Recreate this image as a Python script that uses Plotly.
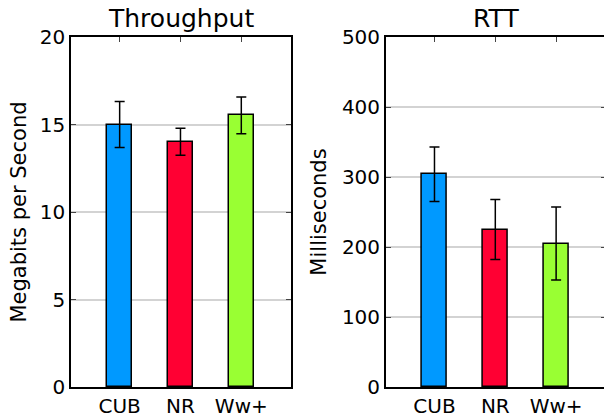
import plotly.graph_objects as go

categories = ["CUB", "NR", "Ww+"]
throughput = [15.0, 14.02, 15.52]
throughput_err = [1.32, 0.77, 1.05]
rtt = [304, 225, 205]
rtt_err = [39, 43, 52]
colors = ["#0099ff", "#ff0033", "#99ff33"]

FONT = "DejaVu Sans"
W, H = 608, 418
ML, MR, MT, MB = 71, 0, 37, 28
PW = W - ML - MR
PH = H - MT - MB

dom1 = [0, (292 - ML) / PW]
dom2 = [(387 - ML) / PW, 1.0]

fig = go.Figure()
fig.add_trace(go.Bar(
    x=categories, y=throughput, width=0.41,
    marker=dict(color=colors, line=dict(color="black", width=1.5)),
    error_y=dict(type="data", array=throughput_err, color="black", thickness=1.5, width=5),
    xaxis="x", yaxis="y", showlegend=False))
fig.add_trace(go.Bar(
    x=categories, y=rtt, width=0.41,
    marker=dict(color=colors, line=dict(color="black", width=1.5)),
    error_y=dict(type="data", array=rtt_err, color="black", thickness=1.5, width=5),
    xaxis="x2", yaxis="y2", showlegend=False))

xcommon = dict(showline=True, linecolor="black", linewidth=1.5, mirror="allticks",
               ticks="inside", ticklen=5, tickcolor="#444", tickwidth=1,
               showgrid=False, zeroline=False, layer="below traces",
               tickfont=dict(family=FONT, size=20, color="black"))
ycommon = dict(showline=True, linecolor="black", linewidth=1.5, mirror="allticks",
               ticks="inside", ticklen=5, tickcolor="#444", tickwidth=1,
               showgrid=True, gridcolor="#d3d3d3", gridwidth=2, zeroline=False,
               layer="below traces",
               tickfont=dict(family=FONT, size=20, color="black"))

title_y = 1 + (MT - 18) / PH

fig.update_layout(
    width=W, height=H,
    margin=dict(l=ML, r=MR, t=MT, b=MB, pad=0),
    paper_bgcolor="white", plot_bgcolor="white",
    bargap=0,
    xaxis=dict(domain=dom1, range=[-0.8, 2.82], anchor="y", **xcommon),
    yaxis=dict(domain=[0, 1], range=[0, 20], tickvals=[0, 5, 10, 15, 20], anchor="x",
               title=dict(text="Megabits per Second", font=dict(family=FONT, size=21, color="black"), standoff=7),
               **ycommon),
    xaxis2=dict(domain=dom2, range=[-0.8, 2.82], anchor="y2", **xcommon),
    yaxis2=dict(domain=[0, 1], range=[0, 500], tickvals=[0, 100, 200, 300, 400, 500], anchor="x2",
                title=dict(text="Milliseconds", font=dict(family=FONT, size=21, color="black"), standoff=10),
                **ycommon),
    annotations=[
        dict(text="Throughput", x=(dom1[0] + dom1[1]) / 2, y=title_y, xref="paper", yref="paper",
             showarrow=False, font=dict(family=FONT, size=25, color="black"), xanchor="center", yanchor="middle"),
        dict(text="RTT", x=(dom2[0] + dom2[1]) / 2, y=title_y, xref="paper", yref="paper",
             showarrow=False, font=dict(family=FONT, size=25, color="black"), xanchor="center", yanchor="middle"),
    ],
)

fig.write_html("out.html",
               config={"displayModeBar": False},
               post_script="document.body.style.margin='0';document.body.style.overflow='hidden';"
                           "document.documentElement.style.overflow='hidden';")
